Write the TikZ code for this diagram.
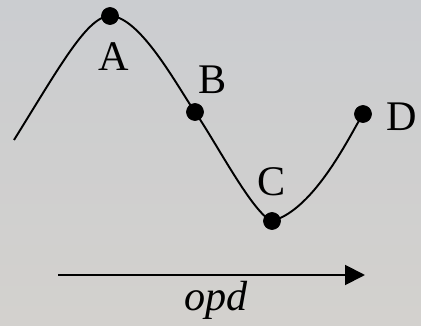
\documentclass[tikz,border=0pt]{standalone}
\usepackage{fontspec}
\setmainfont{Liberation Serif}
\usetikzlibrary{arrows.meta}
\definecolor{bgtop}{RGB}{203,205,208}
\definecolor{bgbot}{RGB}{211,209,206}
\begin{document}
\begin{tikzpicture}[every node/.style={font=\fontsize{24}{28}\selectfont}]
  \tikzstyle{mydot}=[circle,fill=black,draw=black,inner sep=0pt,minimum size=0.34cm]
  \tikzstyle{mylabel}=[inner sep=0pt]
  \fill[top color=bgtop,bottom color=bgbot] (0,0) rectangle (8.42,6.52);
  % points on the wave
  \coordinate (s) at (0.28,3.72);
  \node[mydot] (A) at (2.20,6.20) {};
  \node[mydot] (B) at (3.90,4.28) {};
  \node[mydot] (C) at (5.44,2.10) {};
  \node[mydot] (D) at (7.26,4.24) {};
  \node[mylabel] (la) at (2.28,5.38) {A};
  \node[mylabel] (lb) at (4.26,4.92) {B};
  \node[mylabel] (lc) at (5.44,2.88) {C};
  \node[mylabel] (ld) at (8.04,4.18) {D};
  \draw[line width=1.1pt] (s) .. controls (1.20,5.20) and (1.75,6.20) .. (A.center)
    .. controls (2.80,6.20) and (3.56,4.77) .. (B.center)
    .. controls (4.30,3.71) and (5.06,2.24) .. (C.center)
    .. controls (6.31,2.33) and (7.04,3.90) .. (D.center);
  % opd axis
  \coordinate (o1) at (1.16,1.02);
  \coordinate (o2) at (7.30,1.02);
  \draw[line width=1.1pt,-{Triangle[length=0.4cm,width=0.4cm]}] (o1) -- (o2);
  \node[mylabel] (opd) at (4.32,0.52) {\itshape opd};
\end{tikzpicture}
\end{document}
